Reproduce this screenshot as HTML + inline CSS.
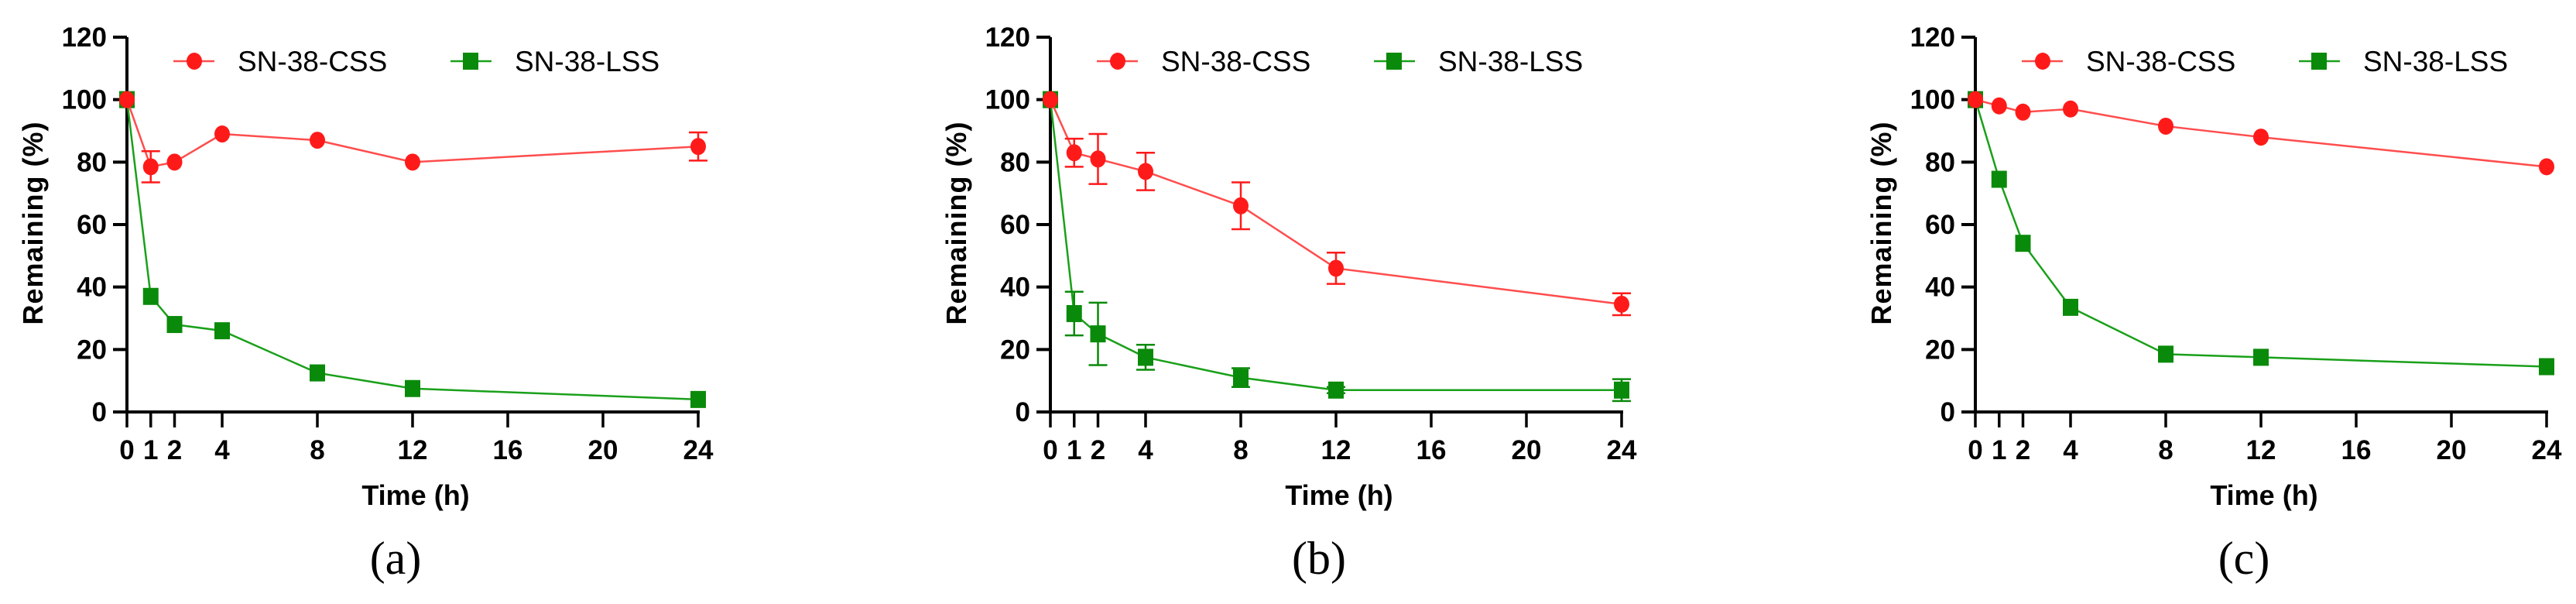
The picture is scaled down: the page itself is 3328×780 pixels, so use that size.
<!DOCTYPE html>
<html><head><meta charset="utf-8">
<style>
html,body{margin:0;padding:0;background:#fff;}
svg{display:block;}
text{font-family:"Liberation Sans",Arial,sans-serif;}
</style></head>
<body>
<svg id="fig" width="3328" height="780" viewBox="0 0 3328 780" xmlns="http://www.w3.org/2000/svg"></svg>
<script>
const times = [0, 1, 2, 4, 8, 12, 24];
const xTicks = [0, 1, 2, 4, 8, 12, 16, 20, 24];
const yTicks = [0, 20, 40, 60, 80, 100, 120];
const panelLabels = ["(a)", "(b)", "(c)"];
const cssA = [100, 78.5, 80, 89, 87, 80, 85];
const cssAErr = [0, 5, 0, 0, 0, 0, 4.5];
const lssA = [100, 37, 28, 26, 12.5, 7.5, 4];
const lssAErr = [0, 0, 0, 0, 0, 0, 0];
const cssB = [100, 83, 81, 77, 66, 46, 34.5];
const cssBErr = [0, 4.5, 8, 6, 7.5, 5, 3.5];
const lssB = [100, 31.5, 25, 17.5, 11, 7, 7];
const lssBErr = [0, 7, 10, 4, 3, 1, 3.5];
const cssC = [100, 98, 96, 97, 91.5, 88, 78.5];
const cssCErr = [0, 0, 0, 0, 0, 0, 0];
const lssC = [100, 74.5, 54, 33.5, 18.5, 17.5, 14.5];
const lssCErr = [0, 0, 0, 0, 0, 0, 0];

const panels = [
  {ox:164, css:cssA, cssErr:cssAErr, lss:lssA, lssErr:lssAErr},
  {ox:1357, css:cssB, cssErr:cssBErr, lss:lssB, lssErr:lssBErr},
  {ox:2552, css:cssC, cssErr:cssCErr, lss:lssC, lssErr:lssCErr}
];
const NS = "http://www.w3.org/2000/svg";
const svg = document.getElementById('fig');
const RED = "#ff1a1a", GREEN = "#0a8a0a", LGREEN = "#1aa01a", LRED="#ff4d4d";
const W = 738, Y0 = 532, Y120 = 48;
function mk(tag, attrs, parent){
  const e = document.createElementNS(NS, tag);
  for (const k in attrs) e.setAttribute(k, attrs[k]);
  (parent||svg).appendChild(e);
  return e;
}
panels.forEach((p, pi) => {
  const g = mk('g', {});
  
  
  const xs = t => p.ox + t / 24 * W;
  const ys = v => Y0 - v / 120 * (Y0 - Y120);
  // axes
  const ya = mk('line', {x1:p.ox, y1:Y120, x2:p.ox, y2:Y0+2, stroke:'#000','stroke-width':4}, g);
  
  
  const xa = mk('line', {x1:p.ox-2, y1:Y0, x2:p.ox+W+2, y2:Y0, stroke:'#000','stroke-width':4}, g);
  
  
  yTicks.forEach(v => {
    mk('line', {x1:p.ox-18, y1:ys(v), x2:p.ox, y2:ys(v), stroke:'#000','stroke-width':4}, g);
    const t = mk('text', {x:p.ox-26, y:ys(v)+12, 'text-anchor':'end', 'font-size':35, 'font-weight':'bold'}, g);
    t.textContent = v;
    
    
  });
  xTicks.forEach(v => {
    mk('line', {x1:xs(v), y1:Y0, x2:xs(v), y2:Y0+20, stroke:'#000','stroke-width':3.5}, g);
    const t = mk('text', {x:xs(v), y:593, 'text-anchor':'middle', 'font-size':35, 'font-weight':'bold'}, g);
    t.textContent = v;
    
    
  });
  const xt = mk('text', {x:p.ox+373, y:652, 'text-anchor':'middle', 'font-size':36, 'font-weight':'bold'}, g);
  xt.textContent = 'Time (h)';
  
  
  const yt = mk('text', {x:0, y:0, 'text-anchor':'middle', 'font-size':36, 'font-weight':'bold', transform:`translate(${p.ox-109},288) rotate(-90)`, 'letter-spacing':'1'}, g);
  yt.textContent = 'Remaining (%)';
  
  
  const pl = mk('text', {x:p.ox+347, y:741, 'text-anchor':'middle', 'font-size':60, style:'font-family:"Liberation Serif",serif'}, g);
  pl.textContent = panelLabels[pi];
  
  

  // series
  const series = [
    {vals:p.lss, err:p.lssErr, color:GREEN, line:LGREEN, shape:'sq', name:'lss'},
    {vals:p.css, err:p.cssErr, color:RED, line:LRED, shape:'ci', name:'css'}
  ];
  series.forEach(s => {
    const pts = times.map((t,i)=>xs(t)+','+ys(s.vals[i])).join(' ');
    const pl2 = mk('polyline', {points:pts, fill:'none', stroke:s.line, 'stroke-width':2.5}, g);
    
    
    times.forEach((t,i) => {
      const x = xs(t), y = ys(s.vals[i]), e = s.err[i];
      if (e > 0) {
        const eg = mk('g', {stroke:s.color, 'stroke-width':2.5}, g);
        
        
        mk('line', {x1:x, y1:ys(s.vals[i]+e), x2:x, y2:ys(s.vals[i]-e)}, eg);
        mk('line', {x1:x-12, y1:ys(s.vals[i]+e), x2:x+12, y2:ys(s.vals[i]+e)}, eg);
        mk('line', {x1:x-12, y1:ys(s.vals[i]-e), x2:x+12, y2:ys(s.vals[i]-e)}, eg);
      }
      let m;
      if (s.shape === 'sq') m = mk('rect', {x:x-10, y:y-11, width:20, height:22, fill:s.color}, g);
      else m = mk('ellipse', {cx:x, cy:y, rx:10, ry:11, fill:s.color}, g);
      
      
    });
  });

  // legend
  const lg = mk('g', {}, g);
  
  
  const ly = 79;
  mk('line', {x1:p.ox+60, y1:ly, x2:p.ox+113, y2:ly, stroke:LRED, 'stroke-width':2.5}, lg);
  mk('ellipse', {cx:p.ox+87, cy:ly, rx:10, ry:11, fill:RED}, lg);
  const t1 = mk('text', {x:p.ox+143, y:ly+13, 'font-size':37}, lg);
  t1.textContent = 'SN-38-CSS';
  
  
  mk('line', {x1:p.ox+418, y1:ly, x2:p.ox+471, y2:ly, stroke:LGREEN, 'stroke-width':2.5}, lg);
  mk('rect', {x:p.ox+434, y:ly-11, width:20, height:22, fill:GREEN}, lg);
  const t2 = mk('text', {x:p.ox+501, y:ly+13, 'font-size':37}, lg);
  t2.textContent = 'SN-38-LSS';
  
  
});
</script>
</body></html>
